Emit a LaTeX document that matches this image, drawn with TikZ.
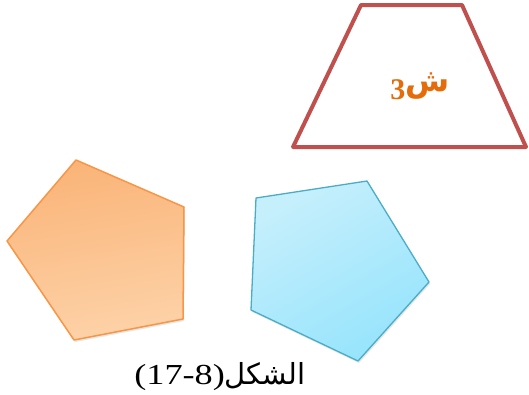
\documentclass[tikz,border=0pt]{standalone}
\usepackage{fontspec}
\setmainfont{Liberation Serif}
\newfontfamily\arabicfont[Script=Arabic]{DejaVu Sans}
\newfontfamily\latinfont{Liberation Serif}
\TeXXeTstate=1
\usetikzlibrary{calc, shadows}
\definecolor{TrapLine}{RGB}{192,80,77}
\definecolor{LabelOrange}{RGB}{228,108,10}
\definecolor{OrgLine} {RGB}{247,150,70}
\definecolor{OrgDark} {RGB}{250,180,120}
\definecolor{OrgLight}{RGB}{253,210,168}
\definecolor{BluLine} {RGB}{75,172,198}
\definecolor{BluDark} {RGB}{150,228,252}
\definecolor{BluLight}{RGB}{198,239,252}
\tikzset{
  trap/.style={draw=TrapLine, line width=4pt, line join=round, fill=white},
  pentOrg/.style={draw=OrgLine, line width=1.5pt, line join=round,
    left color=OrgDark, right color=OrgLight, shading angle=10,
    drop shadow={opacity=0.2, shadow xshift=1pt, shadow yshift=-2pt}},
  pentBlu/.style={draw=BluLine, line width=1.3pt, line join=round,
    left color=BluLight, right color=BluDark, shading angle=30,
    drop shadow={opacity=0.2, shadow xshift=1pt, shadow yshift=-2pt}},
  lbl/.style={text=LabelOrange, font=\bfseries, inner sep=0pt},
  captxt/.style={font=\fontsize{29}{32}\selectfont, inner sep=0pt}
}
\begin{document}
\begin{tikzpicture}[x=1pt, y=-1pt]
  \useasboundingbox (0,0) rectangle (529,394);

  %% ── Trapezoid (top right) ──────────────────────────────────────────
  \coordinate (t1) at (361,5);
  \coordinate (t2) at (462,5);
  \coordinate (t3) at (526,147);
  \coordinate (t4) at (293,147);
  \draw[trap] (t1) -- (t2) -- (t3) -- (t4) -- cycle;
  \node[lbl] (s3) at (420,86)
    {\beginR{\fontsize{32}{36}\selectfont\arabicfont ش}\raisebox{-8pt}{\fontsize{30}{32}\selectfont\latinfont 3}\endR};

  %% ── Orange pentagon (left) ─────────────────────────────────────────
  \coordinate (o1) at (76,160);
  \coordinate (o2) at (184,207);
  \coordinate (o3) at (183,319);
  \coordinate (o4) at (74,340);
  \coordinate (o5) at (7,241);
  \draw[pentOrg] (o1) -- (o2) -- (o3) -- (o4) -- (o5) -- cycle;

  %% ── Blue pentagon (right) ──────────────────────────────────────────
  \coordinate (b1) at (256,198);
  \coordinate (b2) at (367,181);
  \coordinate (b3) at (429,282);
  \coordinate (b4) at (358,361);
  \coordinate (b5) at (251,310);
  \draw[pentBlu] (b1) -- (b2) -- (b3) -- (b4) -- (b5) -- cycle;

  %% ── Caption ────────────────────────────────────────────────────────
  \node[captxt, anchor=base] (caption) at (220,384)
    {\beginR{\arabicfont الشكل}\beginL\scalebox{1.25}[1]{\latinfont(17-8)}\endL\endR};
\end{tikzpicture}
\end{document}
